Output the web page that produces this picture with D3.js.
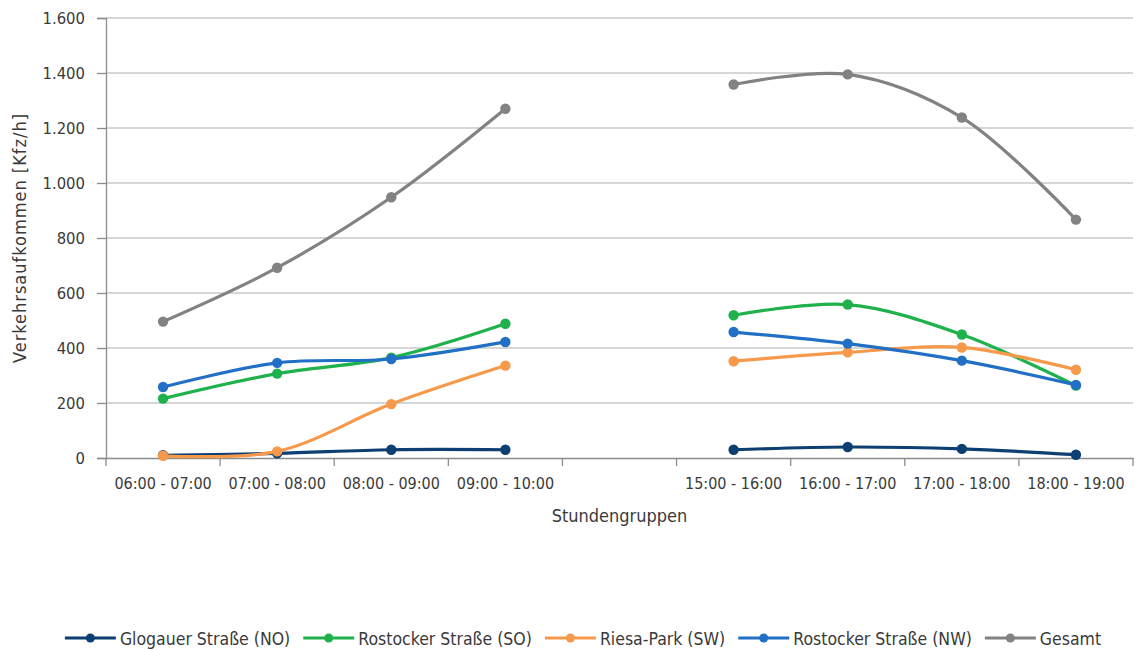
<!DOCTYPE html>
<html>
<head>
<meta charset="utf-8">
<script src="https://cdn.jsdelivr.net/npm/d3@7"></script>
<style>
  body { margin: 0; background: #fff; }
  text { font-family: "DejaVu Sans Condensed", "DejaVu Sans", sans-serif; fill: #3a3a3a; }
</style>
</head>
<body>
<div id="chart"></div>
<script>
const categories = [
  "06:00 - 07:00", "07:00 - 08:00", "08:00 - 09:00", "09:00 - 10:00", "",
  "15:00 - 16:00", "16:00 - 17:00", "17:00 - 18:00", "18:00 - 19:00"
];
const seriesNames = [
  "Glogauer Straße (NO)", "Rostocker Straße (SO)", "Riesa-Park (SW)",
  "Rostocker Straße (NW)", "Gesamt"
];
const seriesColors = ["#0d3f73", "#1fb14b", "#f7994a", "#2270c6", "#828282"];
// null = leere Kategorie (Lücke)
const glogauerNO = [10, 17, 30, 30, null, 30, 40, 33, 12];
const rostockerSO = [216, 307, 365, 488, null, 519, 558, 449, 263];
const riesaSW = [8, 24, 196, 336, null, 352, 384, 402, 321];
const rostockerNW = [258, 346, 360, 422, null, 458, 416, 354, 266];
const gesamt = [496, 692, 948, 1270, null, 1358, 1395, 1238, 867];
const yTicks = [0, 200, 400, 600, 800, 1000, 1200, 1400, 1600];

const allSeries = [glogauerNO, rostockerSO, riesaSW, rostockerNW, gesamt];

const width = 1141, height = 650;
const margin = { top: 18, right: 8, bottom: 192, left: 106 };
const innerW = width - margin.left - margin.right;
const innerH = height - margin.top - margin.bottom;

const svg = d3.select("#chart").append("svg")
  .attr("width", width).attr("height", height);

const g = svg.append("g")
  .attr("transform", "translate(" + margin.left + "," + margin.top + ")");

const x = d3.scaleBand().domain(d3.range(categories.length)).range([0, innerW]);
const y = d3.scaleLinear().domain([0, 1600]).range([innerH, 0]);

// Gitternetz
g.selectAll(".grid").data(yTicks.slice(1)).enter().append("line")
  .attr("x1", 0).attr("x2", innerW)
  .attr("y1", d => y(d)).attr("y2", d => y(d))
  .attr("stroke", "#c9c9c9").attr("stroke-width", 1.3);

// y-Achse
const yAxis = g.append("g")
  .call(d3.axisLeft(y).tickValues(yTicks).tickSize(9).tickPadding(12)
    .tickFormat(d => d3.format(",")(d).replace(/,/g, ".")));
yAxis.select(".domain").attr("stroke", "#8c8c8c").attr("stroke-width", 1.3);
yAxis.selectAll(".tick line").attr("stroke", "#8c8c8c").attr("stroke-width", 1.3);
yAxis.selectAll("text").attr("font-size", 16.5).attr("fill", "#3a3a3a")
  .style("font-family", '"DejaVu Sans Condensed", sans-serif');

// x-Achse
const xAxis = g.append("g").attr("transform", "translate(0," + innerH + ")")
  .call(d3.axisBottom(x).tickSize(0).tickPadding(20).tickFormat(i => categories[i]));
xAxis.select(".domain").attr("stroke", "#8c8c8c").attr("stroke-width", 1.3);
xAxis.selectAll("text").attr("font-size", 16).attr("fill", "#3a3a3a")
  .style("font-family", '"DejaVu Sans Condensed", sans-serif');
// Teilstriche an den Kategoriegrenzen
const bounds = d3.range(categories.length + 1).map(i => i * x.step());
xAxis.selectAll(".bound").data(bounds).enter().append("line")
  .attr("x1", d => d).attr("x2", d => d).attr("y1", 0).attr("y2", 8)
  .attr("stroke", "#8c8c8c").attr("stroke-width", 1.3);

// Achsentitel
svg.append("text")
  .attr("transform", "translate(26," + (margin.top + innerH / 2) + ") rotate(-90)")
  .attr("text-anchor", "middle").attr("font-size", 18)
  .attr("letter-spacing", 1)
  .text("Verkehrsaufkommen [Kfz/h]");
svg.append("text")
  .attr("x", margin.left + innerW / 2).attr("y", 522)
  .attr("text-anchor", "middle").attr("font-size", 18)
  .text("Stundengruppen");

// Linien
const cx = i => x(i) + x.bandwidth() / 2;
const line = d3.line()
  .defined(d => d.v !== null)
  .x(d => cx(d.i)).y(d => y(d.v))
  .curve(d3.curveCatmullRom.alpha(0.5));

allSeries.forEach((vals, s) => {
  const pts = vals.map((v, i) => ({ i: i, v: v }));
  g.append("path").datum(pts)
    .attr("fill", "none").attr("stroke", seriesColors[s])
    .attr("stroke-width", 3.2).attr("stroke-linecap", "round")
    .attr("d", line);
  g.selectAll(".pt" + s).data(pts.filter(d => d.v !== null)).enter().append("circle")
    .attr("cx", d => cx(d.i)).attr("cy", d => y(d.v)).attr("r", 5.2)
    .attr("fill", seriesColors[s]);
});

// Legende
const legend = svg.append("g");
let lx = 0;
seriesNames.forEach((name, s) => {
  const item = legend.append("g").attr("transform", "translate(" + lx + ",0)");
  item.append("line").attr("x1", 0).attr("x2", 51).attr("y1", 0).attr("y2", 0)
    .attr("stroke", seriesColors[s]).attr("stroke-width", 3.2);
  item.append("circle").attr("cx", 25.5).attr("cy", 0).attr("r", 4.5)
    .attr("fill", seriesColors[s]);
  const t = item.append("text").attr("x", 55).attr("y", 6.5)
    .attr("font-size", 17.5).text(name);
  lx += 55 + t.node().getComputedTextLength() + 13;
});
legend.attr("transform", "translate(" + (583 - (lx - 13) / 2) + ",638)");
</script>
</body>
</html>
